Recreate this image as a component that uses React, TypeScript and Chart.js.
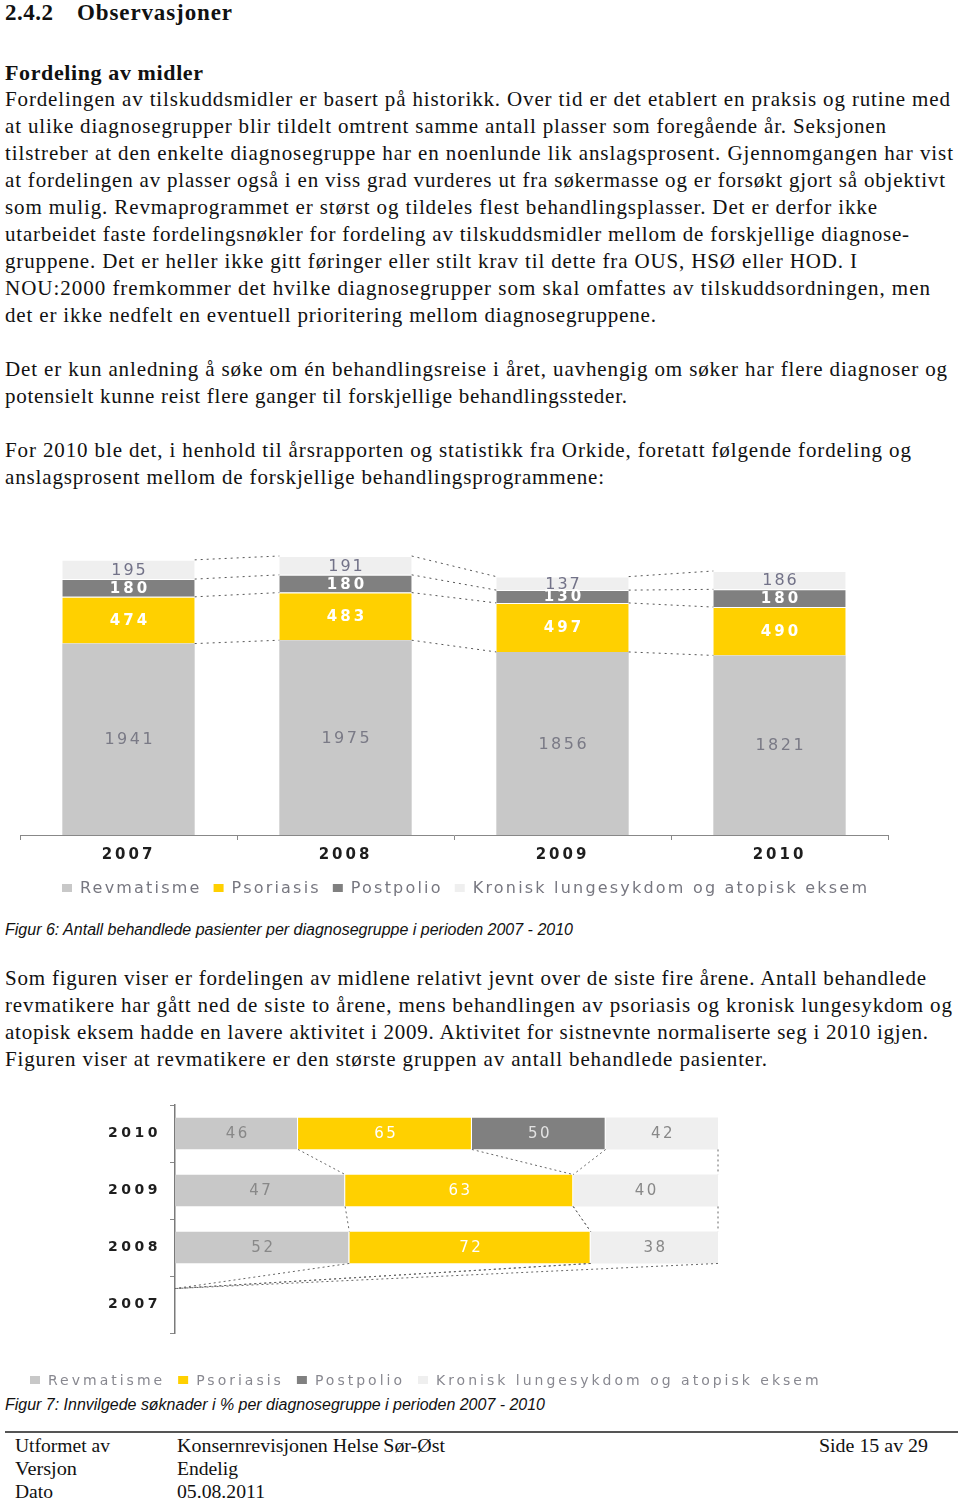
import React, { useEffect, useLayoutEffect, useRef } from "react";
import { Chart, registerables } from "chart.js";

Chart.register(...registerables);

// ---------- Data: Figur 6 ----------
const years1 = ["2007", "2008", "2009", "2010"];
const revmatisme1 = [1941, 1975, 1856, 1821];
const psoriasis1 = [474, 483, 497, 490];
const postpolio1 = [180, 180, 130, 180];
const kronisk1 = [195, 191, 137, 186];

// ---------- Data: Figur 7 ----------
const years2 = ["2010", "2009", "2008", "2007"];
const revmatisme2: (number | null)[] = [46, 47, 52, null];
const psoriasis2: (number | null)[] = [65, 63, 72, null];
const postpolio2: (number | null)[] = [50, null, null, null];
const kronisk2: (number | null)[] = [42, 40, 38, null];

const seriesNames = [
  "Revmatisme",
  "Psoriasis",
  "Postpolio",
  "Kronisk lungesykdom og atopisk eksem",
];
const seriesColors = ["#C8C8C8", "#FFD000", "#808080", "#EFEFEF"];

const SANS = '"DejaVu Sans", "Liberation Sans", Arial, sans-serif';
const CAPSANS = '"Liberation Sans", Arial, sans-serif';
const SERIF = '"Liberation Serif", "Times New Roman", serif';

// ---------- Plugins ----------
const tickSpacing = {
  id: "tickSpacing",
  beforeLayout(chart: any, _a: any, opts: any) {
    chart.ctx.letterSpacing = (opts.ls || 0) + "px";
  },
  beforeDraw(chart: any, _a: any, opts: any) {
    chart.ctx.letterSpacing = (opts.ls || 0) + "px";
  },
};

const connectors = {
  id: "connectors",
  afterDatasetsDraw(chart: any, _a: any, opts: any) {
    const ctx = chart.ctx;
    const xs = chart.scales.x;
    const ys = chart.scales.y;
    const horizontal = chart.options.indexAxis === "y";
    const n = chart.data.labels.length;
    const ds = chart.data.datasets;
    const catScale = horizontal ? ys : xs;
    const catSize = (horizontal ? ys.bottom - ys.top : xs.right - xs.left) / n;
    const half = (catSize * opts.barPct) / 2;
    const cum = (k: number, i: number) => {
      let s = 0;
      for (let j = 0; j <= k; j++) s += ds[j].data[i] ?? 0;
      return s;
    };
    ctx.save();
    ctx.letterSpacing = "0px";
    ctx.strokeStyle = opts.color;
    ctx.lineWidth = 1;
    ctx.setLineDash(opts.dash);
    ctx.beginPath();
    for (let k = 0; k < ds.length; k++) {
      for (let i = 0; i < n - 1; i++) {
        const c0 = cum(k, i);
        const c1 = cum(k, i + 1);
        if (horizontal) {
          ctx.moveTo(xs.getPixelForValue(c0), catScale.getPixelForValue(i) + half);
          ctx.lineTo(xs.getPixelForValue(c1), catScale.getPixelForValue(i + 1) - half);
        } else {
          ctx.moveTo(catScale.getPixelForValue(i) + half, ys.getPixelForValue(c0));
          ctx.lineTo(catScale.getPixelForValue(i + 1) - half, ys.getPixelForValue(c1));
        }
      }
    }
    ctx.stroke();
    ctx.restore();
  },
};

const barLabels = {
  id: "barLabels",
  afterDatasetsDraw(chart: any, _a: any, opts: any) {
    const ctx = chart.ctx;
    const horizontal = chart.options.indexAxis === "y";
    chart.data.datasets.forEach((_ds: any, d: number) => {
      const meta = chart.getDatasetMeta(d);
      const st = opts.styles[d];
      const vals = opts.values[d];
      ctx.save();
      ctx.font = `${st.weight} ${st.size}px ${SANS}`;
      ctx.letterSpacing = st.ls + "px";
      ctx.fillStyle = st.color;
      ctx.textAlign = "center";
      ctx.textBaseline = "middle";
      meta.data.forEach((el: any, i: number) => {
        const v = vals[i];
        if (v == null) return;
        const p = el.getProps(["x", "y", "base"], true);
        const cx = horizontal ? (p.x + p.base) / 2 : p.x;
        const cy = horizontal ? p.y : (p.y + p.base) / 2;
        ctx.fillText(String(v), cx + st.ls / 2, cy + 1);
      });
      ctx.restore();
    });
  },
};

const customLegend = {
  id: "customLegend",
  afterDraw(chart: any, _a: any, opts: any) {
    const ctx = chart.ctx;
    ctx.save();
    ctx.font = `${opts.size}px ${SANS}`;
    ctx.letterSpacing = opts.ls + "px";
    ctx.textBaseline = "middle";
    ctx.textAlign = "left";
    let x = opts.x;
    chart.data.datasets.forEach((ds: any) => {
      ctx.fillStyle = ds.backgroundColor;
      ctx.fillRect(x, opts.y - opts.boxH / 2, opts.boxW, opts.boxH);
      x += opts.boxW + opts.boxGap;
      ctx.fillStyle = opts.color;
      ctx.fillText(ds.label, x, opts.y + 1);
      x += ctx.measureText(ds.label).width + opts.itemGap;
    });
    ctx.restore();
  },
};

// ---------- Chart 1 ----------
function ChartFig6() {
  const ref = useRef<HTMLCanvasElement>(null);
  useEffect(() => {
    const values = [revmatisme1, psoriasis1, postpolio1, kronisk1];
    const chart = new Chart(ref.current as HTMLCanvasElement, {
      type: "bar",
      data: {
        labels: years1,
        datasets: values.map((v, k) => ({
          label: seriesNames[k],
          data: v,
          backgroundColor: seriesColors[k],
          borderColor: "#ffffff",
          borderWidth: { top: k === 0 ? 0 : 1, left: 0, right: 0, bottom: 0 },
          borderSkipped: false,
          categoryPercentage: 1,
          barPercentage: 0.61,
        })),
      },
      options: {
        responsive: false,
        animation: false,
        devicePixelRatio: 1,
        layout: { padding: { left: 20, right: 46, top: 9, bottom: 40 } },
        scales: {
          x: {
            stacked: true,
            offset: true,
            grid: { display: true, drawOnChartArea: false, drawTicks: true, tickLength: 5, color: "#888888", offset: true },
            border: { display: true, color: "#888888", width: 1 },
            ticks: { color: "#1e1e1e", font: { family: SANS, size: 15, weight: "bold" }, padding: 6, autoSkip: false, maxRotation: 0 },
            afterFit: (s: any) => { s.height = 30; },
          },
          y: { stacked: true, display: false, min: 0, max: 2900 },
        },
        plugins: {
          legend: { display: false },
          tooltip: { enabled: false },
          tickSpacing: { ls: 3 },
          connectors: { barPct: 0.61, color: "#555555", dash: [2, 4] },
          barLabels: {
            values,
            styles: [
              { color: "#7a7a86", weight: "normal", size: 16, ls: 2.5 },
              { color: "#ffffff", weight: "bold", size: 15, ls: 3 },
              { color: "#ffffff", weight: "bold", size: 15, ls: 3 },
              { color: "#727288", weight: "normal", size: 16, ls: 2 },
            ],
          },
          customLegend: { x: 62, y: 348, size: 16, ls: 2.2, boxW: 10, boxH: 8, boxGap: 8, itemGap: 12, color: "#777780" },
        } as any,
      },
      plugins: [tickSpacing, connectors, barLabels, customLegend],
    } as any);
    return () => chart.destroy();
  }, []);
  return (
    <canvas
      ref={ref}
      width={934}
      height={365}
      style={{ position: "absolute", left: 0, top: 540, width: 934, height: 365 }}
    />
  );
}

// ---------- Chart 2 ----------
function ChartFig7() {
  const ref = useRef<HTMLCanvasElement>(null);
  useEffect(() => {
    const raw = [revmatisme2, psoriasis2, postpolio2, kronisk2];
    const totals = years2.map((_, i) => raw.reduce((s, a) => s + (a[i] ?? 0), 0));
    const pct = (a: (number | null)[]) =>
      a.map((v, i) => (v == null || totals[i] === 0 ? null : (v / totals[i]) * 100));
    const chart = new Chart(ref.current as HTMLCanvasElement, {
      type: "bar",
      data: {
        labels: years2,
        datasets: raw.map((v, k) => ({
          label: seriesNames[k],
          data: pct(v),
          backgroundColor: seriesColors[k],
          borderColor: "#ffffff",
          borderWidth: { top: 0, left: 0, right: k === 3 ? 0 : 1, bottom: 0 },
          borderSkipped: false,
          categoryPercentage: 1,
          barPercentage: 0.56,
        })),
      },
      options: {
        indexAxis: "y",
        responsive: false,
        animation: false,
        devicePixelRatio: 1,
        layout: { padding: { left: 0, right: 242, top: 20, bottom: 57 } },
        scales: {
          x: { stacked: true, display: false, min: 0, max: 100 },
          y: {
            stacked: true,
            offset: true,
            grid: { display: true, drawOnChartArea: false, drawTicks: true, tickLength: 5, color: "#888888", offset: true },
            border: { display: true, color: "#7a7a7a", width: 1.5 },
            ticks: { color: "#1e1e1e", font: { family: SANS, size: 14, weight: "bold" }, padding: 9, autoSkip: false },
            afterFit: (s: any) => { s.width = 175; },
          },
        },
        plugins: {
          legend: { display: false },
          tooltip: { enabled: false },
          tickSpacing: { ls: 3.5 },
          connectors: { barPct: 0.56, color: "#666666", dash: [2, 3] },
          barLabels: {
            values: raw,
            styles: [
              { color: "#888888", weight: "normal", size: 15, ls: 2.5 },
              { color: "#ffffff", weight: "normal", size: 15, ls: 2.5 },
              { color: "#e2e2e2", weight: "normal", size: 15, ls: 2.5 },
              { color: "#888888", weight: "normal", size: 15, ls: 2.5 },
            ],
          },
          customLegend: { x: 30, y: 295, size: 14, ls: 3.0, boxW: 10, boxH: 8, boxGap: 8, itemGap: 13, color: "#888890" },
        } as any,
      },
      plugins: [tickSpacing, connectors, barLabels, customLegend],
    } as any);
    return () => chart.destroy();
  }, []);
  return (
    <canvas
      ref={ref}
      width={960}
      height={305}
      style={{ position: "absolute", left: 0, top: 1085, width: 960, height: 305 }}
    />
  );
}

// ---------- Text ----------
type LineSpec = [number, number, string]; // centre y, right end x, text

const para1: LineSpec[] = [
  [99, 950, "Fordelingen av tilskuddsmidler er basert på historikk. Over tid er det etablert en praksis og rutine med"],
  [126, 886, "at ulike diagnosegrupper blir tildelt omtrent samme antall plasser som foregående år. Seksjonen"],
  [153, 953, "tilstreber at den enkelte diagnosegruppe har en noenlunde lik anslagsprosent. Gjennomgangen har vist"],
  [180, 945, "at fordelingen av plasser også i en viss grad vurderes ut fra søkermasse og er forsøkt gjort så objektivt"],
  [207, 877, "som mulig. Revmaprogrammet er størst og tildeles flest behandlingsplasser. Det er derfor ikke"],
  [234, 909, "utarbeidet faste fordelingsnøkler for fordeling av tilskuddsmidler mellom de forskjellige diagnose-"],
  [261, 857, "gruppene. Det er heller ikke gitt føringer eller stilt krav til dette fra OUS, HSØ eller HOD. I"],
  [288, 930, "NOU:2000 fremkommer det hvilke diagnosegrupper som skal omfattes av tilskuddsordningen, men"],
  [315, 656, "det er ikke nedfelt en eventuell prioritering mellom diagnosegruppene."],
  [369, 947, "Det er kun anledning å søke om én behandlingsreise i året, uavhengig om søker har flere diagnoser og"],
  [396, 627, "potensielt kunne reist flere ganger til forskjellige behandlingssteder."],
  [450, 911, "For 2010 ble det, i henhold til årsrapporten og statistikk fra Orkide, foretatt følgende fordeling og"],
  [477, 604, "anslagsprosent mellom de forskjellige behandlingsprogrammene:"],
  [978, 926, "Som figuren viser er fordelingen av midlene relativt jevnt over de siste fire årene. Antall behandlede"],
  [1005, 952, "revmatikere har gått ned de siste to årene, mens behandlingen av psoriasis og kronisk lungesykdom og"],
  [1032, 928, "atopisk eksem hadde en lavere aktivitet i 2009. Aktivitet for sistnevnte normaliserte seg i 2010 igjen."],
  [1059, 767, "Figuren viser at revmatikere er den største gruppen av antall behandlede pasienter."],
];

function Fit(props: {
  x: number; c: number; w: number; mode?: "ls" | "sx"; family?: string; size: number;
  weight?: string; italic?: boolean; children: string; lh?: number;
}) {
  const lh = props.lh ?? 27;
  return (
    <div
      data-fit={props.w}
      data-mode={props.mode ?? "ls"}
      style={{
        position: "absolute",
        left: props.x,
        top: props.c - lh / 2,
        whiteSpace: "nowrap",
        fontFamily: props.family ?? SERIF,
        fontSize: props.size,
        fontWeight: (props.weight as any) ?? "normal",
        fontStyle: props.italic ? "italic" : "normal",
        lineHeight: lh + "px",
        color: "#111",
      }}
    >
      {props.children}
    </div>
  );
}

export default function App() {
  useLayoutEffect(() => {
    document.querySelectorAll<HTMLElement>("[data-fit]").forEach((el) => {
      const target = parseFloat(el.dataset.fit || "0");
      el.style.letterSpacing = "0px";
      el.style.transform = "";
      const w = el.getBoundingClientRect().width;
      if (!w) return;
      if (el.dataset.mode === "sx") {
        el.style.transformOrigin = "0 0";
        el.style.transform = `scaleX(${target / w})`;
      } else {
        const n = (el.textContent || "").length;
        el.style.letterSpacing = (target - w) / Math.max(1, n - 1) + "px";
      }
    });
  }, []);

  return (
    <div
      style={{
        position: "absolute",
        left: 0,
        top: 0,
        width: 960,
        height: 1498,
        background: "#ffffff",
        overflow: "hidden",
      }}
    >
      <Fit x={5} c={12} w={48} size={23} weight="bold">2.4.2</Fit>
      <Fit x={77} c={12} w={155} size={23} weight="bold">Observasjoner</Fit>
      <Fit x={5} c={72} w={198} size={22} weight="bold">Fordeling av midler</Fit>

      {para1.map(([c, end, t], i) => (
        <Fit key={i} x={5} c={c} w={end - 5} size={21}>{t}</Fit>
      ))}

      <ChartFig6 />

      <Fit x={5} c={930} w={568} size={16} italic family={CAPSANS} mode="sx" lh={20}>
        Figur 6: Antall behandlede pasienter per diagnosegruppe i perioden 2007 - 2010
      </Fit>

      <ChartFig7 />

      <Fit x={5} c={1405} w={540} size={16} italic family={CAPSANS} mode="sx" lh={20}>
        Figur 7: Innvilgede søknader i % per diagnosegruppe i perioden 2007 - 2010
      </Fit>

      <div style={{ position: "absolute", left: 5, top: 1431, width: 953, height: 2, background: "#555" }} />

      <Fit x={15} c={1445} w={95} size={19} mode="sx" lh={23}>Utformet av</Fit>
      <Fit x={177} c={1445} w={268} size={19} mode="sx" lh={23}>Konsernrevisjonen Helse Sør-Øst</Fit>
      <Fit x={819} c={1445} w={109} size={19} mode="sx" lh={23}>Side 15 av 29</Fit>
      <Fit x={15} c={1468} w={62} size={19} mode="sx" lh={23}>Versjon</Fit>
      <Fit x={177} c={1468} w={61} size={19} mode="sx" lh={23}>Endelig</Fit>
      <Fit x={15} c={1491} w={38} size={19} mode="sx" lh={23}>Dato</Fit>
      <Fit x={177} c={1491} w={88} size={19} mode="sx" lh={23}>05.08.2011</Fit>
    </div>
  );
}
